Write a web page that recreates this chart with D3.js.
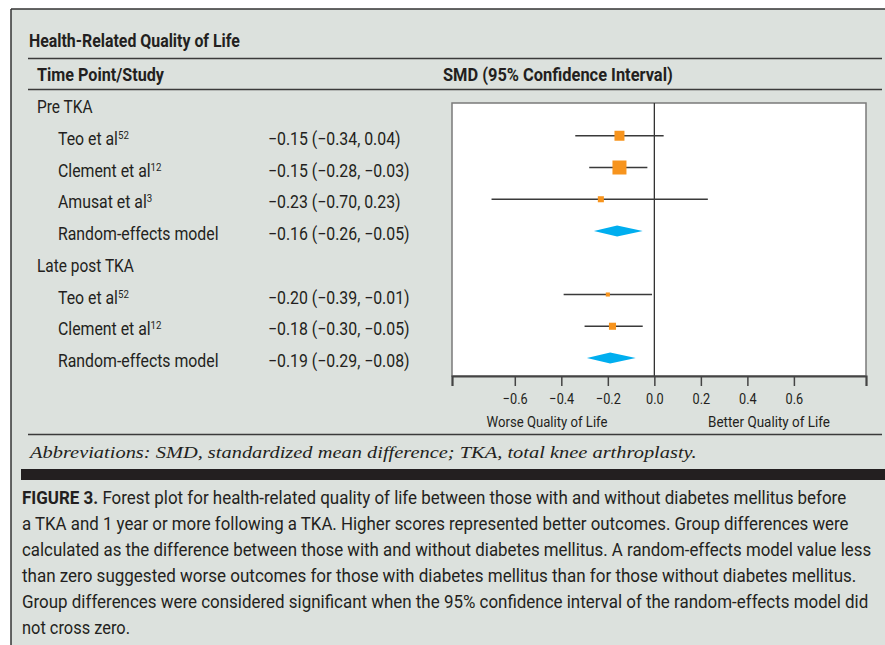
<!DOCTYPE html>
<html>
<head>
<meta charset="utf-8">
<script src="https://cdn.jsdelivr.net/npm/d3@7/dist/d3.min.js"></script>
<style>
  html, body { margin: 0; padding: 0; background: #ffffff; }
  svg { display: block; }
  .sans { font-family: Roboto, "Liberation Sans", "DejaVu Sans", sans-serif; fill: #231f20; }
  .serif { font-family: "Liberation Serif", "DejaVu Serif", serif; font-style: italic; fill: #231f20; }
</style>
</head>
<body>
<svg id="chart" width="885" height="645"></svg>
<script>
// ---- data ----
const groups = ["Pre TKA", "Late post TKA"];
const studyNames = ["Teo et al", "Clement et al", "Amusat et al", "Random-effects model",
                    "Teo et al", "Clement et al", "Random-effects model"];
const studyRefs = ["52", "12", "3", "", "52", "12", ""];
const studyGroup = [0, 0, 0, 0, 1, 1, 1];
const smd = [-0.15, -0.15, -0.23, -0.16, -0.20, -0.18, -0.19];
const ciLower = [-0.34, -0.28, -0.70, -0.26, -0.39, -0.30, -0.29];
const ciUpper = [0.04, -0.03, 0.23, -0.05, -0.01, -0.05, -0.08];
const studyWeight = [30, 59, 11, null, 5, 15, null];
const isPooled = [false, false, false, true, false, false, true];
const xTicks = [-0.6, -0.4, -0.2, 0.0, 0.2, 0.4, 0.6];

const titleText = "Health-Related Quality of Life";
const colStudy = "Time Point/Study";
const colSmd = "SMD (95% Confidence Interval)";
const worseLabel = "Worse Quality of Life";
const betterLabel = "Better Quality of Life";
const abbrevText = "Abbreviations: SMD, standardized mean difference; TKA, total knee arthroplasty.";
const captionLead = "FIGURE 3.";
const captionLines = [
  " Forest plot for health-related quality of life between those with and without diabetes mellitus before",
  "a TKA and 1 year or more following a TKA. Higher scores represented better outcomes. Group differences were",
  "calculated as the difference between those with and without diabetes mellitus. A random-effects model value less",
  "than zero suggested worse outcomes for those with diabetes mellitus than for those without diabetes mellitus.",
  "Group differences were considered significant when the 95% confidence interval of the random-effects model did",
  "not cross zero."
];

// ---- build rows: group headings followed by their studies ----
const rows = [];
groups.forEach((g, gi) => {
  rows.push({ type: "group", label: g });
  smd.forEach((v, i) => {
    if (studyGroup[i] === gi) {
      rows.push({ type: "study", label: studyNames[i], ref: studyRefs[i], smd: v,
                  lo: ciLower[i], hi: ciUpper[i], w: studyWeight[i], pooled: isPooled[i] });
    }
  });
});

const svg = d3.select("#chart");
const W = 885, H = 645;

// Narrow-set text: draw at the origin of its own group, then squeeze horizontally
// so the line spans the given width (the face is a condensed grotesque).
function narrowText(parent, opts, build) {
  const g = parent.append("g").attr("transform", `translate(${opts.x},${opts.y})`);
  const t = g.append("text").attr("class", opts.cls || "sans")
    .attr("font-size", opts.size || 18)
    .attr("font-weight", opts.weight || "normal")
    .attr("text-anchor", opts.anchor || "start");
  if (opts.fill) t.attr("fill", opts.fill);
  if (build) build(t); else t.text(opts.text);
  const w = t.node().getComputedTextLength();
  const sx = opts.width ? opts.width / w : (opts.sx || 0.82);
  t.attr("transform", `scale(${sx},1)`);
  return t;
}

// ---- frame ----
svg.append("rect").attr("x", 11).attr("y", 9).attr("width", W - 11).attr("height", H - 9)
  .attr("fill", "#dce1dd");
svg.append("line").attr("x1", 11).attr("x2", W).attr("y1", 9).attr("y2", 9)
  .attr("stroke", "#333").attr("stroke-width", 1.5);
svg.append("line").attr("x1", 11).attr("x2", 11).attr("y1", 9).attr("y2", H)
  .attr("stroke", "#333").attr("stroke-width", 1.5);

// ---- header ----
narrowText(svg, { x: 29, y: 47, size: 18, weight: "bold", text: titleText, width: 211 });
svg.append("line").attr("x1", 28).attr("x2", 882).attr("y1", 58.5).attr("y2", 58.5)
  .attr("stroke", "#3a3a3a").attr("stroke-width", 1.5);
narrowText(svg, { x: 37, y: 81, size: 18, weight: "bold", text: colStudy, width: 127 });
narrowText(svg, { x: 443, y: 81, size: 18, weight: "bold", text: colSmd, width: 230 });
svg.append("line").attr("x1", 28).attr("x2", 882).attr("y1", 89.5).attr("y2", 89.5)
  .attr("stroke", "#3a3a3a").attr("stroke-width", 1.5);

// ---- scales ----
const rowY = d3.scalePoint().domain(d3.range(rows.length)).range([107, 361]);
const x = d3.scaleLinear().domain([-0.87, 0.91]).range([452, 866]);
const boxSide = d3.scaleSqrt().domain([0, 59]).range([0, 14]);
const fmt = d3.format(".2f");

// ---- left table ----
const table = svg.append("g");
const textSx = 0.88;
rows.forEach((r, i) => {
  const y = rowY(i) + 6;
  if (r.type === "group") {
    narrowText(table, { x: 37, y, size: 18, text: r.label, sx: 0.86 });
  } else {
    narrowText(table, { x: 58, y, size: 18, sx: textSx }, t => {
      t.append("tspan").text(r.label);
      if (r.ref) t.append("tspan").attr("font-size", 11).attr("dy", -6).text(r.ref);
    });
    narrowText(table, { x: 268, y, size: 18, sx: textSx,
      text: `${fmt(r.smd)} (${fmt(r.lo)}, ${fmt(r.hi)})` });
  }
});

// ---- plot panel ----
const plotTop = 103, plotBottom = 376;
svg.append("rect").attr("x", x.range()[0]).attr("y", plotTop)
  .attr("width", x.range()[1] - x.range()[0]).attr("height", plotBottom - plotTop)
  .attr("fill", "#ffffff").attr("stroke", "#7a7a7a").attr("stroke-width", 1.5);

// null line
svg.append("line").attr("x1", x(0)).attr("x2", x(0)).attr("y1", plotTop).attr("y2", plotBottom)
  .attr("stroke", "#333").attr("stroke-width", 1.3);

// bottom axis
const axis = svg.append("g").attr("transform", `translate(0,${plotBottom})`)
  .call(d3.axisBottom(x).tickValues(xTicks).tickFormat(d3.format(".1f")).tickSize(10).tickPadding(4));
axis.select(".domain").attr("stroke", "#444").attr("stroke-width", 2.2);
axis.selectAll(".tick line").attr("stroke", "#444").attr("stroke-width", 1.5);
axis.selectAll(".tick text").attr("class", "sans").attr("font-size", 15.5)
  .attr("fill", "#333").attr("dy", "0.9em").attr("transform", "scale(0.82,1)");

narrowText(svg, { x: 547, y: 427, size: 15.5, anchor: "middle", fill: "#333", text: worseLabel, width: 121 });
narrowText(svg, { x: 769, y: 427, size: 15.5, anchor: "middle", fill: "#333", text: betterLabel, width: 122 });

// ---- forest marks ----
const marks = svg.append("g");
const studyRows = rows.map((r, i) => ({ ...r, i })).filter(r => r.type === "study");

studyRows.filter(r => !r.pooled).forEach(r => {
  const y = rowY(r.i) - 3;
  marks.append("line").attr("x1", x(r.lo)).attr("x2", x(r.hi)).attr("y1", y).attr("y2", y)
    .attr("stroke", "#3a3a3a").attr("stroke-width", 1.5);
  const s = boxSide(r.w);
  marks.append("rect").attr("x", x(r.smd) - s / 2).attr("y", y - s / 2)
    .attr("width", s).attr("height", s).attr("fill", "#f7941d");
});

studyRows.filter(r => r.pooled).forEach(r => {
  const y = rowY(r.i) - 3;
  const hh = 5.5;
  const pts = [[x(r.lo), y], [x(r.smd), y - hh], [x(r.hi), y], [x(r.smd), y + hh]];
  marks.append("path").attr("d", d3.line()(pts) + "Z").attr("fill", "#00aeef");
});

// ---- footnote ----
svg.append("line").attr("x1", 28).attr("x2", 882).attr("y1", 434.5).attr("y2", 434.5)
  .attr("stroke", "#3a3a3a").attr("stroke-width", 1.5);
narrowText(svg, { x: 30, y: 458, size: 17, cls: "serif", text: abbrevText, width: 667 });

svg.append("rect").attr("x", 21).attr("y", 469).attr("width", W - 21).attr("height", 11)
  .attr("fill", "#231f20");

// ---- caption ----
const capWidths = [825, 827, 850, 835, 847, 108];
captionLines.forEach((line, k) => {
  narrowText(svg, { x: 22, y: 504 + k * 26, size: 18, width: capWidths[k] }, t => {
    if (k === 0) t.append("tspan").attr("font-weight", "bold").text(captionLead);
    t.append("tspan").text(line);
  });
});
</script>
</body>
</html>
